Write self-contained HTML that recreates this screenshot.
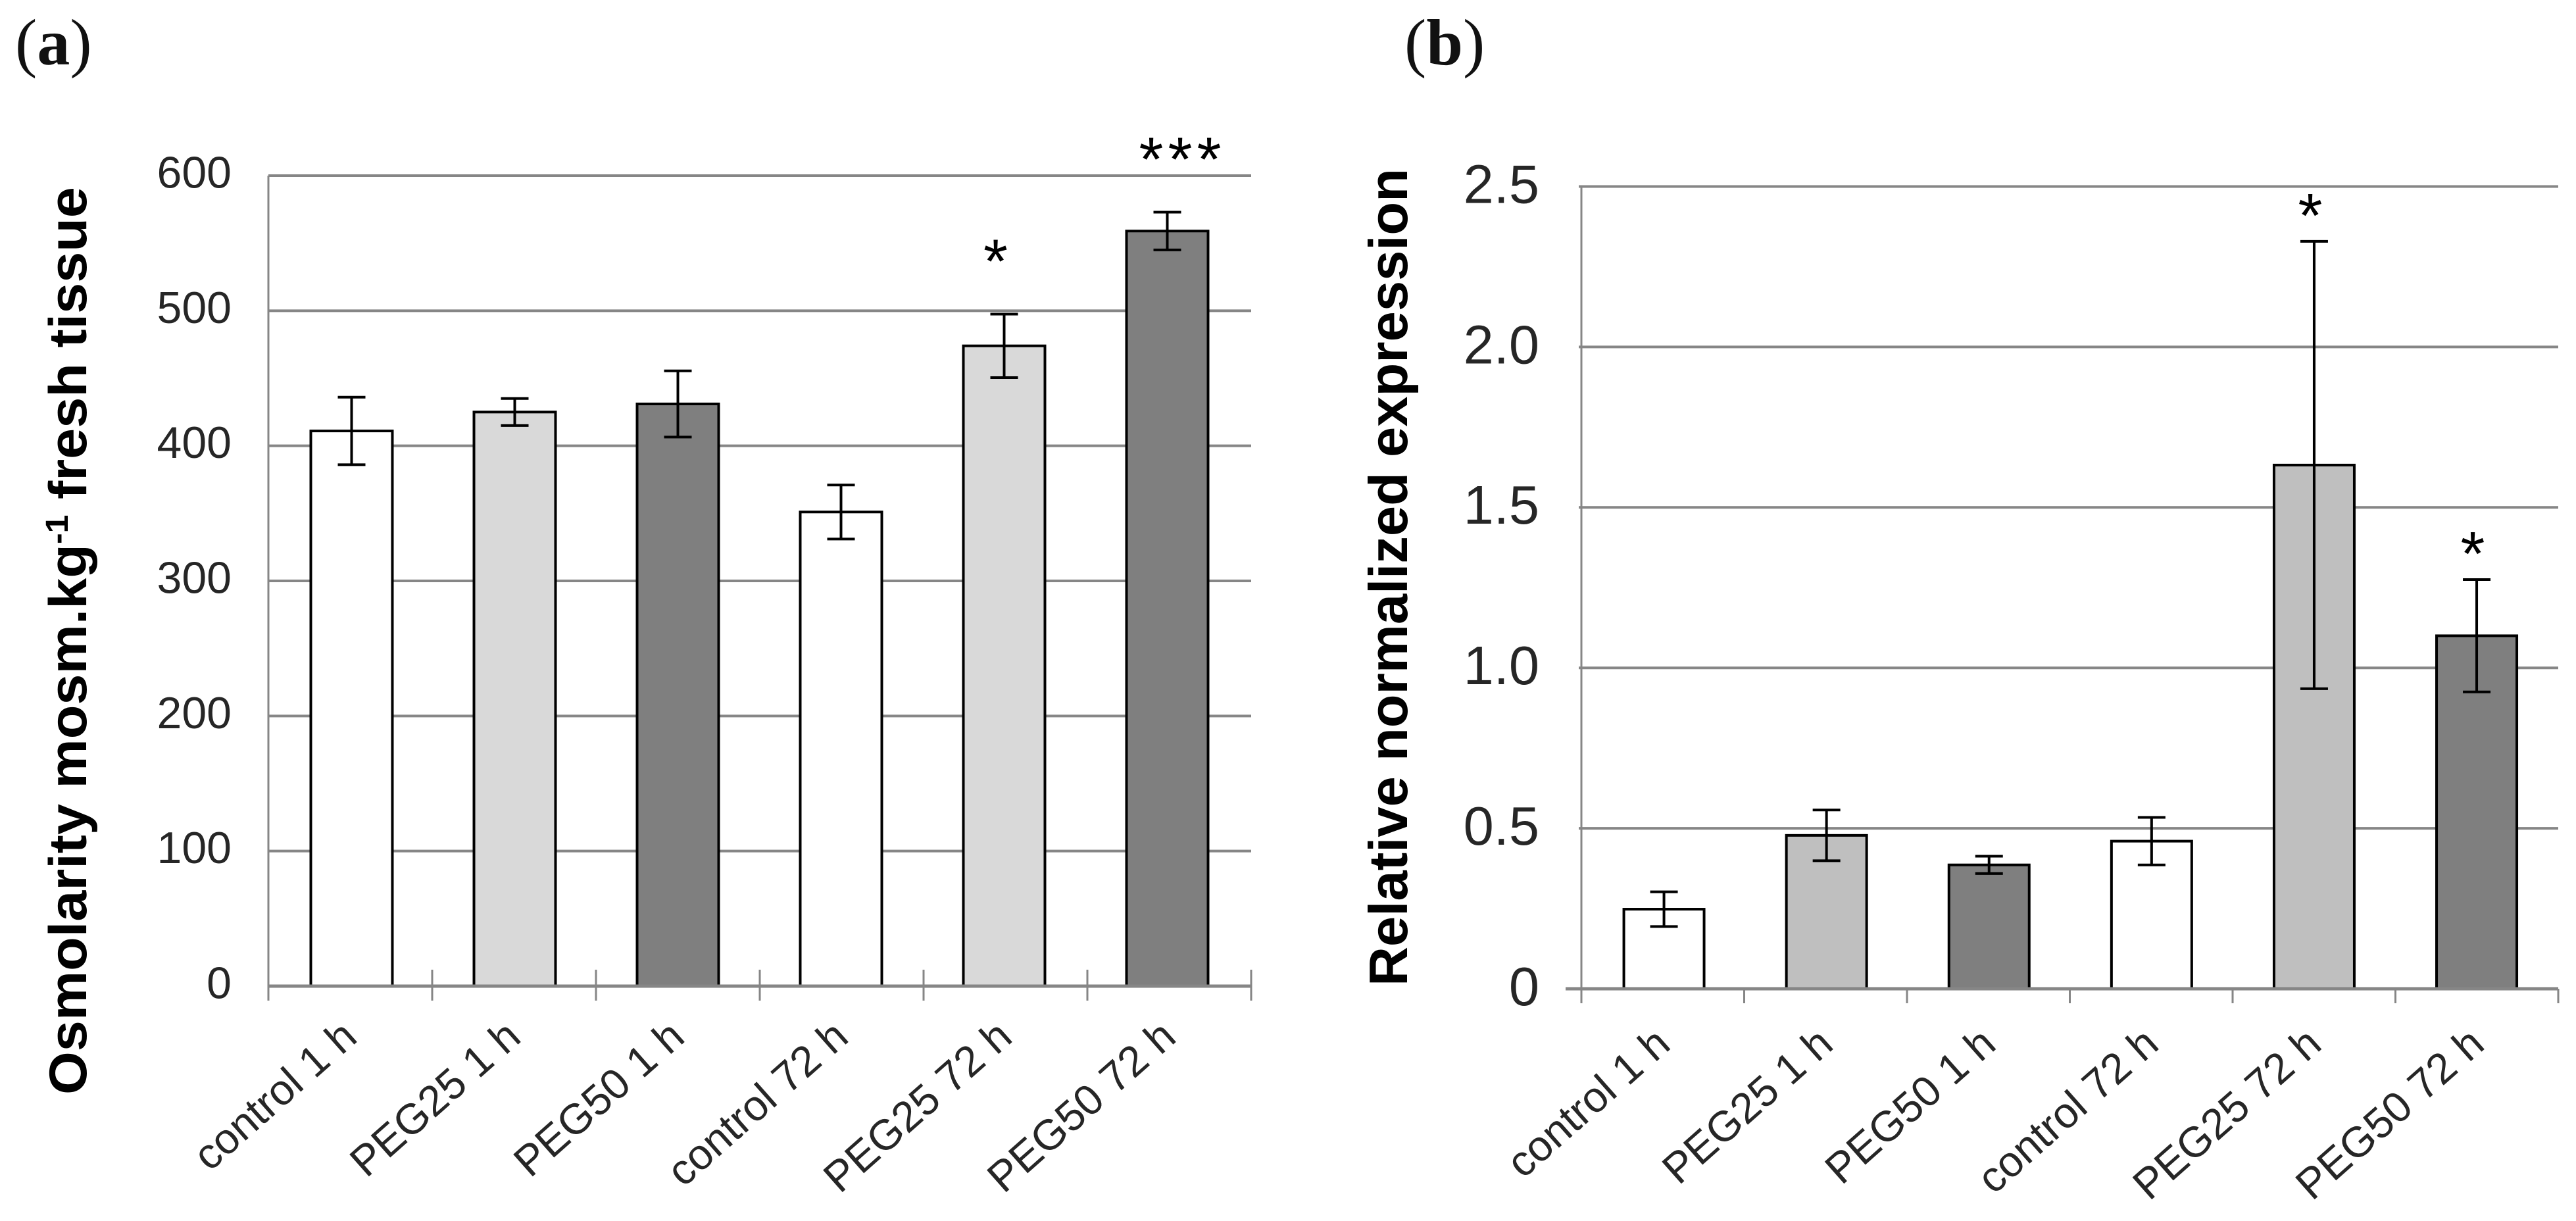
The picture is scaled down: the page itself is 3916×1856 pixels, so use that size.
<!DOCTYPE html>
<html lang="en">
<head>
<meta charset="utf-8">
<title>Osmolarity and relative normalized expression</title>
<style>
html,body{margin:0;padding:0;background:#fff}
svg{display:block}
text{font-family:"Liberation Sans",sans-serif}
</style>
</head>
<body>
<svg id="figure" xmlns="http://www.w3.org/2000/svg" width="3916" height="1856" viewBox="0 0 3916 1856">
  <rect x="0" y="0" width="3916" height="1856" fill="#fff"/>
  <text x="23" y="98" font-size="100" style="font-family:'Liberation Serif',serif" fill="#111">(<tspan font-weight="bold">a</tspan>)</text>
  <text x="2135" y="98" font-size="100" style="font-family:'Liberation Serif',serif" fill="#111">(<tspan font-weight="bold">b</tspan>)</text>
  <text transform="translate(131 1664) rotate(-90)" font-size="81" font-weight="bold" fill="#000" textLength="1380" lengthAdjust="spacingAndGlyphs">Osmolarity mosm.kg<tspan font-size="48" dy="-28">-1</tspan><tspan dy="28"> fresh tissue</tspan></text>
  <text transform="translate(2139 1499) rotate(-90)" font-size="83" font-weight="bold" fill="#000" textLength="1243" lengthAdjust="spacingAndGlyphs">Relative normalized expression</text>
  <g id="panel-a"></g>
  <g id="panel-b"></g>
</svg>
<script>
const categories = ["control 1 h", "PEG25 1 h", "PEG50 1 h", "control 72 h", "PEG25 72 h", "PEG50 72 h"];

const osmolarityValues = [411, 425, 431, 351, 474, 559];
const osmolarityErrors = [25, 10, 24.5, 20, 23.5, 14];
const osmolaritySignificance = ["", "", "", "", "*", "***"];
const osmolarityTicks = [0, 100, 200, 300, 400, 500, 600];
const osmolarityTickLabels = ["0", "100", "200", "300", "400", "500", "600"];

const expressionValues = [0.248, 0.478, 0.386, 0.46, 1.632, 1.10];
const expressionErrors = [0.054, 0.079, 0.027, 0.074, 0.697, 0.175];
const expressionSignificance = ["", "", "", "", "*", "*"];
const expressionTicks = [0, 0.5, 1, 1.5, 2, 2.5];
const expressionTickLabels = ["0", "0.5", "1.0", "1.5", "2.0", "2.5"];

const SVG_NS = "http://www.w3.org/2000/svg";

function make(parent, tag, attrs, content) {
  const node = document.createElementNS(SVG_NS, tag);
  for (const key in attrs) node.setAttribute(key, attrs[key]);
  if (content !== undefined) node.textContent = content;
  parent.appendChild(node);
  return node;
}

function slug(label) {
  return label.toLowerCase().replace(/\s+/g, "-");
}

function barFill(label, palette) {
  if (label.indexOf("PEG25") === 0) return palette.light;
  if (label.indexOf("PEG50") === 0) return palette.dark;
  return palette.none;
}

function drawPanel(root, cfg) {
  const n = categories.length;
  const xBand = function (i) { return cfg.left + (cfg.right - cfg.left) * i / n; };
  const xMid = function (i) { return cfg.barLeft + (cfg.barRight - cfg.barLeft) * (i + 0.5) / n; };
  const yScale = function (v) { return cfg.y0 + (cfg.yTop - cfg.y0) * v / cfg.yMax; };
  const GRID = "#868686";

  cfg.ticks.forEach(function (tick, i) {
    const y = yScale(tick);
    if (tick !== 0) {
      const grid = make(root, "line", { x1: cfg.left - cfg.gridOverhang, x2: cfg.right, y1: y, y2: y, stroke: GRID, "stroke-width": 4 });
      
      
    }
    const label = make(root, "text", { x: cfg.tickX, y: y + cfg.tickFont * 0.36 + cfg.tickDy, "text-anchor": "end", "font-size": cfg.tickFont, fill: "#262626" }, cfg.tickLabels[i]);
    
    
  });

  const yAxis = make(root, "line", { x1: cfg.left, x2: cfg.left, y1: yScale(cfg.yMax), y2: cfg.y0, stroke: GRID, "stroke-width": 3 });
  
  

  for (let i = 0; i <= n; i++) {
    const tickMark = make(root, "line", { x1: xBand(i), x2: xBand(i), y1: cfg.y0 - cfg.tickUp, y2: cfg.y0 + cfg.tickDown, stroke: GRID, "stroke-width": 3 });
    
    
  }

  cfg.values.forEach(function (value, i) {
    const cx = xMid(i);
    const top = yScale(value);
    const bar = make(root, "rect", { x: cx - cfg.barWidth / 2, y: top, width: cfg.barWidth, height: cfg.y0 - top, fill: barFill(categories[i], cfg.palette), stroke: "#000", "stroke-width": 4 });
    
    
  });

  const xAxis = make(root, "line", { x1: cfg.left - cfg.zeroOverhang, x2: cfg.right, y1: cfg.y0, y2: cfg.y0, stroke: GRID, "stroke-width": 5 });
  
  

  cfg.values.forEach(function (value, i) {
    const cx = xMid(i);
    const hi = yScale(value + cfg.errors[i]);
    const lo = yScale(value - cfg.errors[i]);
    const d = "M" + cx + " " + hi + "V" + lo + "M" + (cx - 21) + " " + hi + "H" + (cx + 21) + "M" + (cx - 21) + " " + lo + "H" + (cx + 21);
    const err = make(root, "path", { d: d, fill: "none", stroke: "#000", "stroke-width": 4 });
    
    

    const mark = cfg.significance[i];
    if (mark) {
      const star = make(root, "text", { x: cx + cfg.starNudge(mark), y: hi - cfg.starGap + 46, "text-anchor": "middle", "font-size": 95, "letter-spacing": mark.length > 1 ? 7 : 0, fill: "#000" }, mark);
      
      
    }

    const ax = xBand(i + 1) + cfg.catDx;
    const ay = cfg.y0 + cfg.catDy;
    const cat = make(root, "text", { transform: "translate(" + ax + " " + ay + ") rotate(-41.5)", "text-anchor": "end", "font-size": cfg.catFont, fill: "#262626" }, categories[i]);
    
    
  });
}

drawPanel(document.getElementById("panel-a"), {
  left: 408, right: 1902, y0: 1499, yTop: 267, yMax: 600,
  barLeft: 410.5, barRight: 1898.5,
  values: osmolarityValues, errors: osmolarityErrors, significance: osmolaritySignificance,
  ticks: osmolarityTicks, tickLabels: osmolarityTickLabels,
  barWidth: 124, gridOverhang: 0, zeroOverhang: 0,
  tickX: 352, tickFont: 68, tickDy: -6, tickUp: 25, tickDown: 22,
  starGap: 94, starNudge: function (m) { return m.length > 1 ? 23 : -13; },
  catDx: -111, catDy: 82, catFont: 65,
  palette: { none: "#ffffff", light: "#d9d9d9", dark: "#7f7f7f" }
});

drawPanel(document.getElementById("panel-b"), {
  left: 2404, right: 3889, y0: 1503, yTop: 283.5, yMax: 2.5,
  barLeft: 2406, barRight: 3888.6,
  values: expressionValues, errors: expressionErrors, significance: expressionSignificance,
  ticks: expressionTicks, tickLabels: expressionTickLabels,
  barWidth: 122, gridOverhang: 4, zeroOverhang: 24,
  tickX: 2340, tickFont: 83, tickDy: -5, tickUp: 0, tickDown: 22,
  starGap: 53, starNudge: function () { return -6; },
  catDx: -109, catDy: 89, catFont: 65,
  palette: { none: "#ffffff", light: "#bfbfbf", dark: "#7f7f7f" }
});
</script>
</body>
</html>
